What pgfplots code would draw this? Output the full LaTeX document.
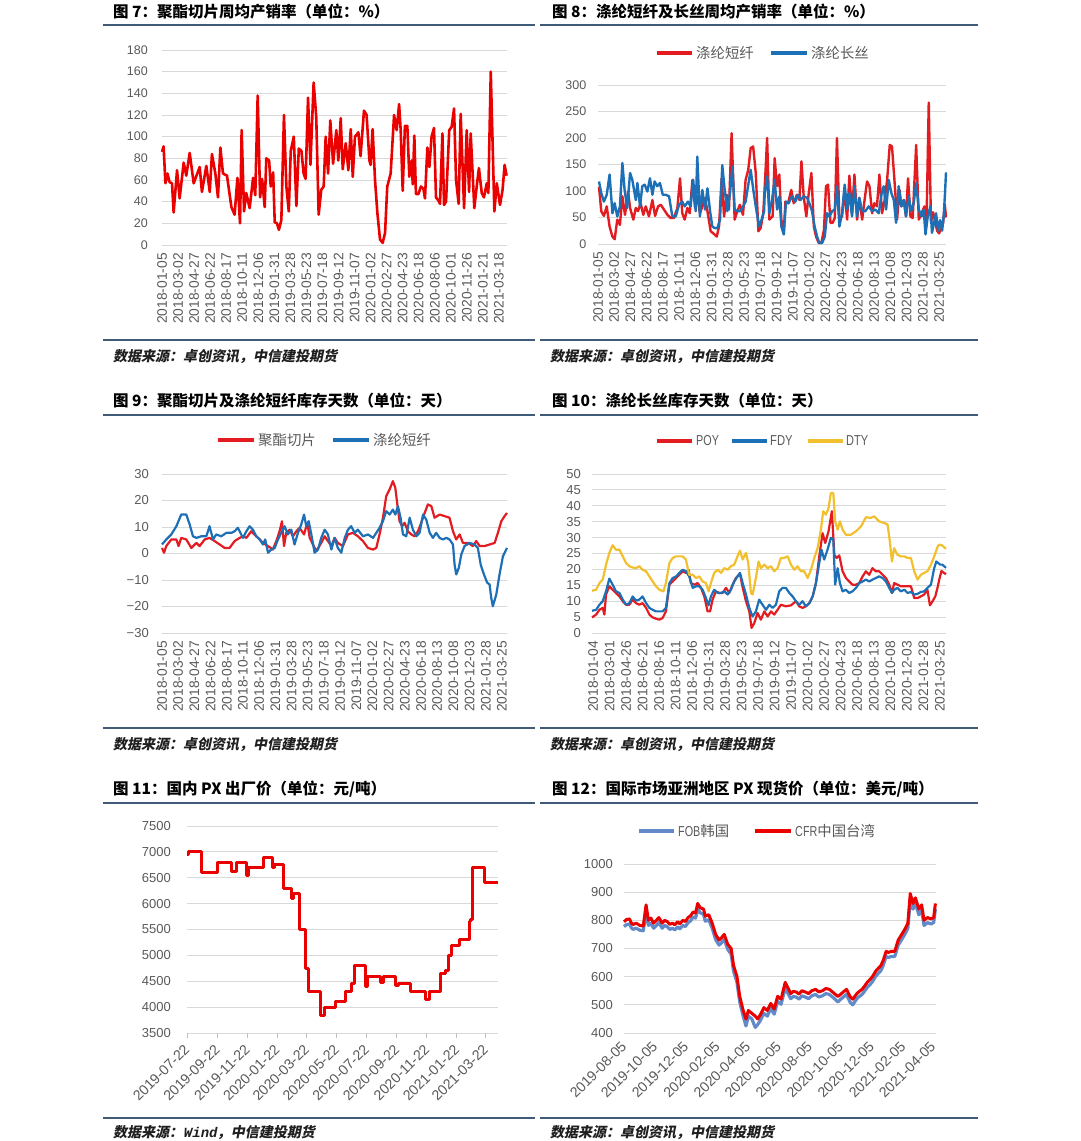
\documentclass[border=0pt]{standalone}
\usepackage{pgfplots}
\pgfplotsset{compat=1.18}
\usepackage{graphicx}
\usepackage{fontspec}
\setmainfont{Liberation Sans}
\newfontfamily\cjk{Noto Sans CJK SC}
\newfontfamily\srcfont[FakeSlant=0.2]{Noto Sans CJK SC}
\newfontfamily\srcmono[FakeSlant=0.2]{Liberation Mono}
\definecolor{rulec}{RGB}{64,90,120}
\definecolor{gridc}{RGB}{217,217,217}
\definecolor{labc}{RGB}{89,89,89}
\definecolor{redP}{RGB}{235,0,0}
\definecolor{redA}{RGB}{226,28,32}
\definecolor{blueA}{RGB}{30,112,182}
\definecolor{yelA}{RGB}{242,192,46}
\definecolor{blueF}{RGB}{98,138,200}
\pgfplotsset{
  base/.style={
    scale only axis, clip=false,
    axis line style={draw=none}, tick style={draw=none},
    ymajorgrids, major grid style={draw=gridc, line width=1pt},
    /pgf/number format/assume math mode=true,
    /pgf/number format/1000 sep={},
    scaled y ticks=false, scaled x ticks=false,
    yticklabel style={anchor=east, inner sep=0pt, text=labc, font=\fontsize{12.5}{14}\selectfont},
    xticklabel style={anchor=east, inner sep=0pt, text=labc},
  },
  vlab/.style={xticklabel style={rotate=90, font=\fontsize{13.8}{15}\selectfont}},
  dlab/.style={xticklabel style={rotate=45, font=\fontsize{14.2}{15}\selectfont}},
}
\newcommand\ttl[3]{\node[anchor=west, inner sep=0pt] at (#1pt,-#2pt) {\cjk\bfseries\fontsize{15.5}{18}\selectfont #3};}
\newcommand\rul[3]{\draw[rulec, line width=1.8pt] (#1pt,-#3pt) -- (#2pt,-#3pt);}
\newcommand\src[3]{\node[anchor=west, inner sep=0pt, text=black!88] at (#1pt,-#2pt) {\srcfont\bfseries\fontsize{14}{16}\selectfont #3};}
\newcommand\leg[5]{\draw[#1, line width=3.5pt] (#2pt,-#4pt) -- (#3pt,-#4pt); \node[anchor=west, inner sep=0pt, text=labc] at ({#3pt+4pt},-#4pt) {\cjk\fontsize{14.4}{16}\selectfont #5};}
\begin{document}
\begin{tikzpicture}
\path[use as bounding box] (0,0) rectangle (1080pt,-1141pt);
% ---------------- titles, rules, sources
\ttl{113}{12}{图 7：聚酯切片周均产销率（单位：\%）}
\ttl{552}{12}{图 8：涤纶短纤及长丝周均产销率（单位：\%）}
\ttl{113}{401}{图 9：聚酯切片及涤纶短纤库存天数（单位：天）}
\ttl{552}{401}{图 10：涤纶长丝库存天数（单位：天）}
\ttl{113}{789}{图 11：国内 PX 出厂价（单位：元/吨）}
\ttl{552}{789}{图 12：国际市场亚洲地区 PX 现货价（单位：美元/吨）}
\rul{103}{535}{25}\rul{540}{978}{25}
\rul{103}{535}{340}\rul{540}{978}{340}
\rul{103}{535}{415}\rul{540}{978}{415}
\rul{103}{535}{728}\rul{540}{978}{728}
\rul{103}{535}{803}\rul{540}{978}{803}
\rul{103}{535}{1118}\rul{540}{978}{1118}
\src{113}{357}{数据来源：卓创资讯，中信建投期货}
\src{550}{357}{数据来源：卓创资讯，中信建投期货}
\src{113}{745}{数据来源：卓创资讯，中信建投期货}
\src{550}{745}{数据来源：卓创资讯，中信建投期货}
\src{113}{1133}{数据来源：{\srcmono\bfseries Wind}，中信建投期货}
\src{550}{1133}{数据来源：卓创资讯，中信建投期货}

% ---------------- Chart 7
\begin{axis}[base, vlab, at={(162pt,-245pt)}, anchor=south west, width=345pt, height=195pt,
  xmin=0, xmax=172, ymin=0, ymax=180, ytick={0,20,...,180},
  yticklabel shift=14pt, xticklabel shift=8pt,
  xtick={0,8,...,168},
  xticklabels={2018-01-05,2018-03-02,2018-04-27,2018-06-22,2018-08-17,2018-10-11,2018-12-06,2019-01-31,2019-03-28,2019-05-23,2019-07-18,2019-09-12,2019-11-07,2020-01-02,2020-02-27,2020-04-23,2020-06-18,2020-08-06,2020-10-01,2020-11-26,2021-01-21,2021-03-18}]
\addplot[redP, line width=2.6pt, line join=round] coordinates {
(0,86)(0.8,91)(1.7,57)(2.7,66)(3.8,58)(5,57)(5.8,30)(7.5,69)(8.8,43)(10.8,76)(12.1,64)(13.8,85)(15.8,57)(18.8,72)(19.9,49)(22.1,73)(23.8,49)(24.9,84)(26.6,66)(27.9,44)(29.1,90)(30.4,66)(32.4,64)(34.6,35)(36.2,28)(37.6,62)(38.9,20)(39.7,106)(40.9,31)(42,48)(43.7,34)(45.4,62)(46.5,46)(47.7,138)(48.9,44)(49.9,61)(51.2,35)(52,80)(53.4,78)(54.2,54)(55.4,67)(56.2,21)(57.3,20)(58.3,14)(59.5,23)(60.8,120)(62,54)(63.2,31)(64.2,87)(65.7,100)(67,36)(68.2,89)(69.5,87)(70.6,66)(71.6,61)(72.8,136)(74,74)(75.6,150)(76.9,118)(78.1,28)(79.4,51)(80.6,54)(81.6,100)(82.8,66)(83.9,115)(85.3,75)(86.9,106)(87.9,78)(89.1,117)(90.1,70)(91.6,94)(92.9,69)(94.1,107)(95.1,63)(96.2,100)(97.9,104)(99,82)(100.7,124)(102,120)(103.4,78)(104,74)(105,107)(106.2,60)(107.4,29)(108.7,5)(110,2)(111.2,11)(112.3,54)(114,66)(115.7,120)(117,106)(118.2,130)(119,106)(120,50)(121.1,110)(122.3,110)(123.3,63)(124.5,78)(125,56)(125.8,101)(126.6,47)(127.8,47)(129.1,54)(130.3,52)(131.1,43)(132.3,90)(133.3,72)(134.4,100)(135.6,108)(136.6,44)(137.8,41)(138.6,38)(139.8,103)(140.6,37)(141.6,40)(143.2,106)(144.4,109)(145.6,126)(146.6,60)(147.9,38)(148.9,121)(150.6,34)(151.9,106)(153.1,49)(153.9,103)(155.7,34)(156.9,54)(158,71)(159.4,48)(160.5,44)(161.9,57)(162.7,48)(163.9,160)(165.7,31)(166.9,57)(168.5,37)(169.8,51)(170.8,74)(171.8,64)};
\end{axis}

% ---------------- Chart 8
\begin{axis}[base, vlab, at={(598pt,-244pt)}, anchor=south west, width=348pt, height=159pt,
  xmin=0, xmax=171.4, ymin=0, ymax=300, ytick={0,50,...,300},
  yticklabel shift=11.5pt, xticklabel shift=8pt,
  xtick={0,8,...,168},
  xticklabels={2018-01-05,2018-03-02,2018-04-27,2018-06-22,2018-08-17,2018-10-11,2018-12-06,2019-01-31,2019-03-28,2019-05-23,2019-07-18,2019-09-12,2019-11-07,2020-01-02,2020-02-27,2020-04-23,2020-06-18,2020-08-13,2020-10-08,2020-12-03,2021-01-28,2021-03-25}]
\addplot[redA, line width=2.4pt, line join=round] coordinates {
(0.5,108)(1.6,62)(2.9,53)(4.3,71)(5.7,33)(7.1,14)(8.2,9)(9.5,46)(10.8,36)(12,90)(13.3,55)(14.8,99)(15.8,68)(17.4,46)(18.6,68)(19.7,62)(21,77)(22.3,55)(23.5,71)(25.1,52)(26.8,83)(28.1,53)(29.6,71)(30.9,74)(32.5,65)(34.2,55)(35.8,49)(37.4,49)(39.1,68)(40.4,124)(41.5,58)(42.7,46)(44,68)(45.2,58)(46.5,121)(47.8,68)(48.9,90)(50.2,58)(51.4,71)(52.7,87)(53.9,62)(55.5,24)(57.1,19)(58.5,14)(59.6,33)(60.9,124)(62.1,52)(63.4,93)(64.5,65)(65.8,209)(67.3,46)(68.6,62)(69.9,74)(71.4,55)(72.7,121)(74,140)(75.2,181)(76.4,184)(77.7,134)(79,24)(80.1,30)(81.4,58)(82.3,121)(83.3,200)(84.4,46)(86,52)(87,162)(88.2,109)(89.3,131)(90.3,46)(91.5,21)(92.3,80)(93.6,77)(95.2,102)(96.4,77)(98,93)(99.2,83)(100.2,156)(101.3,90)(102.6,52)(103.8,96)(105.1,134)(106.3,33)(107.4,14)(108.7,2)(110,2)(111.3,27)(112.3,109)(113.3,112)(114.5,40)(115.6,40)(116.6,49)(117.7,200)(118.9,46)(120.2,52)(121.4,102)(122.7,46)(123.8,129)(125.1,58)(126.3,131)(127.6,46)(128.7,87)(130.1,46)(131.2,80)(132.5,118)(133.7,109)(135,58)(136.1,77)(137.4,71)(138.6,131)(139.9,58)(141.2,83)(142.4,121)(143.7,187)(144.8,184)(146,121)(147.3,46)(148.5,102)(149.4,71)(150.6,83)(151.7,52)(152.7,124)(153.9,52)(155,49)(156.7,187)(158,46)(159.3,58)(160.8,71)(161.8,40)(162.9,267)(164,40)(165,60)(166,45)(167,25)(168,20)(169,30)(170,40)(170.8,75)(171.4,50)};
\addplot[blueA, line width=2.4pt, line join=round] coordinates {
(0.5,118)(1.6,96)(2.9,80)(4.3,93)(5.7,131)(7.1,58)(8.2,77)(9.5,52)(10.8,71)(12,153)(13.1,102)(14.4,68)(15.8,134)(16.9,121)(18.6,83)(19.4,115)(20.7,71)(21.8,109)(23,112)(24.3,99)(25.6,124)(26.8,93)(27.9,118)(29.2,109)(30.5,115)(31.9,93)(33.3,93)(35,90)(36.6,52)(38.3,52)(39.9,74)(41.5,80)(42.7,71)(44.3,80)(45.6,71)(46.9,121)(48.1,62)(48.9,165)(50.2,52)(51.4,102)(52.7,65)(53.9,105)(55.2,62)(56.3,33)(57.5,30)(58.8,30)(60.1,46)(61.2,149)(62.4,102)(63.7,62)(65,96)(66.2,146)(67.3,65)(68.6,62)(69.9,62)(71.1,68)(72.7,80)(73.9,109)(75.2,140)(76.5,102)(77.7,71)(79.3,33)(80.6,46)(81.8,62)(82.1,96)(83.3,128)(84.4,58)(85.7,83)(87,121)(88.2,65)(89.3,90)(90.3,33)(91.5,18)(92.6,80)(93.9,77)(95.6,90)(97.2,80)(98.5,93)(99.7,83)(101.3,90)(103,87)(104.1,77)(105.4,62)(106.7,33)(107.9,14)(109,2)(110.4,2)(111.7,14)(112.8,58)(114,52)(115.3,62)(116.6,65)(117.7,109)(118.9,33)(120.2,58)(121.5,112)(122.7,65)(123.8,96)(125.1,52)(126.3,109)(127.6,52)(128.7,87)(130.1,62)(131.7,62)(133.3,71)(135,62)(136.6,65)(138.3,58)(139.6,93)(140.7,109)(141.9,65)(143.2,121)(144.5,96)(145.7,83)(146.8,40)(148.1,109)(149.4,71)(150.6,83)(151.7,52)(153,90)(154.2,62)(155.5,77)(156.7,115)(158,65)(159.3,52)(160.4,65)(161.3,18)(162.4,52)(163.7,71)(164.5,21)(165.5,40)(166.5,58)(167.5,25)(168.5,45)(169.5,25)(170.3,55)(170.9,95)(171.4,135)};
\end{axis}
\leg{redA}{657}{692}{53}{涤纶短纤}
\leg{blueA}{771}{807}{53}{涤纶长丝}

% ---------------- Chart 9
\begin{axis}[base, vlab, at={(162pt,-633pt)}, anchor=south west, width=345pt, height=159pt,
  xmin=0, xmax=170.5, ymin=-30, ymax=30, ytick={-30,-20,...,30},
  yticklabels={−30,−20,−10,0,10,20,30},
  yticklabel style={font=\fontsize{13}{15}\selectfont},
  yticklabel shift=13pt, xticklabel shift=8pt,
  xtick={0,8,...,168},
  xticklabels={2018-01-05,2018-03-02,2018-04-27,2018-06-22,2018-08-17,2018-10-11,2018-12-06,2019-01-31,2019-03-28,2019-05-23,2019-07-18,2019-09-12,2019-11-07,2020-01-02,2020-02-27,2020-04-23,2020-06-18,2020-08-13,2020-10-08,2020-12-03,2021-01-28,2021-03-25}]
\addplot[redA, line width=2.2pt, line join=round] coordinates {
(0,2.1)(1,0.3)(2.1,2.8)(4.6,5.3)(7.1,5.3)(8.2,2.8)(9.5,5.9)(12,5.3)(14.5,2.1)(17,4)(18.6,2.8)(21.1,5.3)(23.5,5.9)(26,4.7)(28.5,3.4)(31,2.1)(33.4,2.1)(35.9,4.7)(38.4,5.9)(40,6.5)(41.7,5.9)(44.1,8.4)(46.6,6.5)(48.3,5.3)(49.9,4)(52.4,2.8)(54.8,1.5)(56.5,4.7)(58.1,8.4)(59.3,12.2)(60.3,2.8)(61.4,7.8)(63.1,9)(64.7,6.5)(66.4,8.4)(68,9.7)(70.2,7.2)(71.8,11.6)(73,5.9)(74.6,3.4)(76.3,0.9)(78.7,4)(80.4,6.5)(82,4.7)(83.7,2.8)(85.3,5.9)(86.9,4)(89.4,2.8)(91.9,7.2)(94.4,7.8)(96.8,6.5)(99.3,4.7)(101.8,2.1)(104.3,1.5)(105.9,2.1)(107.5,7.2)(109.2,13.5)(110.8,21.6)(112.5,24.2)(114.1,27.3)(115.3,24.8)(116.3,18.5)(117.4,12.2)(118.7,10.3)(119.9,11.6)(121.5,8.4)(123.2,7.2)(124.8,6.5)(126.5,8.4)(128.1,11.6)(129.8,15.3)(131.4,18.5)(133.1,17.9)(134.7,13.5)(137.2,14.7)(139.7,14.1)(142.1,13.5)(143.8,8.4)(145.4,5.3)(147.1,7.2)(148.7,4)(151.2,4)(153.7,2.8)(155.3,4.7)(157,2.8)(159.4,2.8)(161.9,3.4)(164.4,4)(166,7.8)(167.7,12.2)(169.3,14.1)(170.5,15.3)};
\addplot[blueA, line width=2.2pt, line join=round] coordinates {
(0,3.4)(2.1,5.3)(4.6,7.2)(7.1,10.3)(9.5,14.7)(12,14.7)(13.7,10.9)(15.3,6.5)(17,5.9)(19.4,6.5)(21.9,6.5)(23.5,10.3)(25.2,5.3)(26.8,7.2)(29.3,6.5)(31.8,7.8)(34.3,7.8)(35.9,8.4)(37.5,9.7)(40,5.9)(41.7,8.4)(43.3,10.3)(44.9,9)(46.6,6.5)(48.3,5.3)(49.9,3.4)(51,5.3)(52.4,0.3)(54,1.5)(55.7,2.1)(57.3,5.3)(59.3,8.4)(60.6,10.3)(62.2,7.2)(63.9,9)(65.5,3.4)(67.2,7.8)(68.8,10.9)(70.2,14.7)(71.3,10.3)(72.5,12.2)(73.8,7.2)(75.4,0.3)(77.1,1.5)(78.7,5.9)(80.4,9)(82,7.2)(83.7,1.5)(85.3,5.9)(86.9,2.1)(88.6,0.3)(90.3,5.9)(91.9,9)(93.5,10.3)(95.2,7.8)(96.8,9)(99.3,6.5)(101.8,7.2)(104.3,5.9)(105.9,7.8)(107.5,9.7)(109.2,12.2)(110.8,16)(112.5,14.7)(114.1,16.6)(115.3,14.7)(116.6,17.9)(117.9,13.5)(119.1,7.2)(120.7,6.5)(122.4,13.5)(124,9)(125.7,6.5)(127.3,7.8)(129,14.7)(130.6,12.8)(132.3,7.8)(133.9,5.9)(135.5,7.8)(137.2,5.9)(138.8,5.3)(140.5,5.9)(142.1,5.3)(143.8,3.4)(144.6,-4.2)(145.4,-7.9)(146.7,-5.4)(147.9,-0.4)(149.5,2.8)(152,4)(154.5,3.4)(156.1,2.1)(157.5,-4.2)(159.1,-7.9)(160.7,-11)(161.9,-11.7)(162.7,-16.7)(163.5,-19.9)(165.2,-15.5)(166.8,-7.9)(168.5,-1)(170.5,2.1)};
\end{axis}
\leg{redA}{218}{254}{440}{聚酯切片}
\leg{blueA}{333}{369}{440}{涤纶短纤}

% ---------------- Chart 10
\begin{axis}[base, vlab, at={(592pt,-633pt)}, anchor=south west, width=354pt, height=159pt,
  xmin=-0.5, xmax=171, ymin=0, ymax=50, ytick={0,5,...,50},
  yticklabel style={font=\fontsize{13}{15}\selectfont},
  yticklabel shift=11pt, xticklabel shift=8pt,
  xtick={0,8,...,168},
  xticklabels={2018-01-04,2018-03-01,2018-04-26,2018-06-21,2018-08-16,2018-10-11,2018-12-06,2019-01-31,2019-03-28,2019-05-23,2019-07-18,2019-09-12,2019-11-07,2020-01-02,2020-02-27,2020-04-23,2020-06-18,2020-08-13,2020-10-08,2020-12-03,2021-01-28,2021-03-25}]
\addplot[redA, line width=2.2pt, line join=round] coordinates {
(-0.5,4.9)(1.5,5.8)(3.1,7.3)(4.7,7.9)(5.5,5.8)(6.3,12.1)(7.9,14.7)(9.5,13.6)(11.1,12.6)(12.8,11.5)(14.4,10)(16,8.9)(17.6,8.9)(19.2,10.5)(20.8,9.4)(22.4,8.9)(24,9.4)(25.7,7.9)(27.3,5.8)(28.9,4.9)(30.5,4.5)(32.1,4.2)(33.7,4.7)(35.3,6.8)(37,15.2)(38.6,16.2)(40.2,17.3)(41.8,18.3)(43.4,19.4)(45,18.9)(46.3,19.9)(47.4,15.7)(49.1,15.2)(50.7,15.7)(52.3,14.2)(53.9,11.5)(55.5,6.8)(56.7,6.8)(57.9,10.5)(59.5,13.1)(61.2,12.6)(62.8,12.6)(64.4,14.2)(66,12.6)(67.6,15.2)(69.2,17.3)(71.2,18.6)(72.5,14.2)(74.1,10)(75.7,6.8)(76.8,1.6)(78.1,3.1)(79.7,6.3)(81.3,4.2)(83,6.8)(84.6,5.2)(86.2,6.8)(87.8,5.8)(89.4,7.3)(91,8.9)(93.4,8.4)(95.9,8.7)(98.3,10)(99.9,8.4)(101.5,7.9)(103.1,8.4)(104.8,9.4)(106.4,11.5)(108,15.7)(109.6,24.1)(111.2,31.4)(112.5,28.3)(114.1,32)(115.7,38.3)(116.9,24.6)(118,23.6)(119.3,24.4)(120.9,19.4)(122.5,17.3)(124.1,16.2)(125.7,15.2)(127.4,15.2)(129,15.7)(130.6,17.8)(132.2,19.4)(133.8,18.3)(135.4,20.4)(137,19.4)(138.6,19.4)(140.3,18.3)(141.9,17.3)(143.5,15.2)(144.8,12.6)(145.9,15.7)(147.5,15.2)(149.1,14.7)(150.8,14.7)(152.4,14.7)(154,14.7)(155.6,11)(157.2,11)(158.8,11.5)(160.4,12.1)(162,13.6)(163.2,8.7)(164.5,10)(165.8,11.5)(166.8,14)(167.8,17)(168.8,19.5)(169.8,19)(171,18.5)};
\addplot[blueA, line width=2.2pt, line join=round] coordinates {
(-0.5,7)(1.5,7.3)(3.1,8.9)(4.7,10)(6.3,13.1)(7.9,17.1)(9.5,15.2)(11.1,13.1)(12.8,12.6)(14.4,10.5)(16,8.9)(17.6,9.4)(19.2,11.5)(20.8,10.2)(22.4,10.5)(24,11.5)(25.7,9.4)(27.3,7.9)(28.9,7.3)(30.5,6.8)(32.1,6.8)(33.7,6.8)(35.3,7.9)(37,15.7)(38.6,17.3)(40.2,17.8)(41.8,18.9)(43.4,19.9)(45,19.4)(46.6,17.8)(48.3,14.2)(49.9,14.7)(51.5,14.7)(53.1,13.6)(54.7,11)(56,8.7)(57.1,11.5)(58.7,13.6)(60.4,12.6)(62,12.6)(63.6,13.1)(65.2,12.1)(66.8,13.6)(68.4,16.2)(70,17.8)(71.2,18.9)(72.5,15.7)(74.1,12.1)(75.7,7.9)(77.3,5.2)(78.9,6.8)(80.5,10.5)(82.1,8.9)(83.8,7.3)(85.4,8.9)(87,7.9)(88.6,8.9)(90.2,13.1)(91.8,14.2)(93.4,14.2)(95.1,12.6)(96.7,11.5)(98.3,10)(99.9,8.9)(101.5,10)(103.1,8.4)(104.8,9.4)(106.4,11.5)(108,15.7)(109.6,22)(110.7,26.2)(112,23.1)(113.6,26.2)(115.2,29.9)(116.4,29.4)(117.3,15.2)(118.5,20.4)(119.6,15.7)(120.9,13.1)(122.5,13.6)(124.1,12.6)(125.7,13.1)(127.4,14.2)(129,15.7)(130.6,16.2)(132.2,16.8)(133.8,16.2)(135.4,16.8)(137,17.3)(138.6,17.8)(140.3,17.3)(141.9,16.2)(143.5,14.2)(144.8,12.6)(145.9,13.6)(147.5,14.2)(149.1,13.1)(150.8,13.6)(152.4,12.6)(154,12.9)(155.6,12.1)(157.2,12.3)(158.8,12.9)(160.4,13.1)(162,14.2)(163.7,15.2)(165.3,20.4)(166.3,22.5)(167.2,22)(168.2,21.5)(169.2,21.5)(170.1,21)(171,20.5)};
\addplot[yelA, line width=2.2pt, line join=round] coordinates {
(-0.5,13.3)(1.5,13.6)(3.1,15.7)(4.7,16.8)(6.3,21.5)(7.9,25.2)(9.5,27.6)(11.1,26.2)(12.8,26.2)(14.4,24.1)(16,22)(17.6,21)(19.2,20.6)(20.8,20.4)(22.4,21)(24,19.9)(25.7,19.4)(27.3,17.8)(28.9,16.2)(30.5,14.7)(32.1,13.6)(34.1,13.1)(35.3,15.7)(37,22)(38.6,23.6)(40.2,24.1)(41.8,24.1)(43.4,24.1)(45,23.1)(46.6,18.3)(48.3,18.3)(49.9,17.3)(51.5,17.8)(53.1,16.2)(54.7,15.7)(56,13.1)(57.1,15.7)(58.7,18.9)(60.4,19.9)(62,18.9)(63.6,20.4)(65.2,19.9)(66.8,21)(68.4,21.5)(70,24.1)(71.2,25.9)(72.5,23.1)(74.1,25.2)(75.2,22)(76.5,12.6)(77.3,12.1)(78.9,17.3)(80.2,22.5)(81.3,20.4)(83,21.5)(84.6,20.4)(86.2,21)(87.8,19.4)(89.4,20.4)(91,23.6)(92.6,23.6)(94.3,24.1)(95.9,21.5)(97.5,19.9)(99.1,21)(100.7,19.4)(102.3,19.4)(104,17.3)(105.6,19.9)(107.2,23.6)(108.8,26.7)(110.4,32.5)(111.5,38.3)(112.8,37.2)(114.1,39.3)(115.2,44)(116.4,44)(117.3,35.1)(118.5,32.5)(119.6,35.1)(120.9,32.5)(122.5,30.9)(124.9,30.9)(127.4,32)(129.8,33.5)(132.2,36.4)(134.6,36.2)(136.2,36.7)(138.6,35.1)(141.1,34.6)(142.7,34.1)(143.8,28.8)(144.8,22.5)(145.9,26.7)(147.5,24.6)(149.1,24.1)(150.8,24.1)(152.4,23.6)(154,23.6)(155.6,19.4)(157.2,16.8)(158.8,18.3)(160.4,18.9)(162,19.4)(163.7,21.5)(165.3,24.1)(166.3,26)(167.2,27.5)(168.2,27.8)(169.2,27.5)(170.1,27)(171,26.5)};
\end{axis}
\draw[redA, line width=3.5pt] (657pt,-441pt) -- (692pt,-441pt);
\node[anchor=west, inner sep=0pt, text=labc] at (696pt,-441pt) {\fontsize{14.4}{16}\selectfont\scalebox{0.75}[1]{POY}};
\draw[blueA, line width=3.5pt] (732pt,-441pt) -- (767pt,-441pt);
\node[anchor=west, inner sep=0pt, text=labc] at (770pt,-441pt) {\fontsize{14.4}{16}\selectfont\scalebox{0.78}[1]{FDY}};
\draw[yelA, line width=3.5pt] (808pt,-441pt) -- (843pt,-441pt);
\node[anchor=west, inner sep=0pt, text=labc] at (846pt,-441pt) {\fontsize{14.4}{16}\selectfont\scalebox{0.76}[1]{DTY}};

% ---------------- Chart 11
\begin{axis}[base, dlab, at={(187pt,-1033pt)}, anchor=south west, width=311pt, height=207pt,
  xmin=0, xmax=634, ymin=3500, ymax=7500, ytick={3500,4000,...,7500},
  yticklabel style={font=\fontsize{13}{15}\selectfont},
  yticklabel shift=11pt,
  xtick={0,62,123,184,244,305,366,428,489,550,609},
  xtick style={draw=gridc!70!gray, line width=1pt}, tick align=outside, xtick pos=left, major tick length=5pt,
  xticklabel shift=9pt,
  xticklabels={2019-07-22,2019-09-22,2019-11-22,2020-01-22,2020-03-22,2020-05-22,2020-07-22,2020-09-22,2020-11-22,2021-01-22,2021-03-22}]
\addplot[redP, line width=3pt, const plot, line join=round] coordinates {
(0,6950)(4,7000)(29,6600)(63,6800)(90,6620)(101,6800)(121,6550)(126,6700)(155,6900)(174,6700)(179,6750)(196,6300)(214,6100)(218,6200)(230,5500)(242,4750)(247,4300)(273,3830)(281,4000)(303,4100)(323,4300)(335,4450)(341,4800)(364,4400)(368,4600)(395,4480)(400,4600)(425,4420)(431,4450)(456,4300)(487,4150)(495,4300)(517,4650)(527,4700)(533,5000)(539,5200)(556,5300)(575,5650)(578,5700)(582,6700)(607,6400)(635,6400)};
\end{axis}

% ---------------- Chart 12
\begin{axis}[base, dlab, at={(624pt,-1033pt)}, anchor=south west, width=312pt, height=169pt,
  xmin=0, xmax=615, ymin=400, ymax=1000, ytick={400,500,...,1000},
  yticklabel style={font=\fontsize{13}{15}\selectfont},
  yticklabel shift=11pt,
  xtick={0,61,122,184,244,305,366,427,488,550,609},
  xticklabel shift=11pt,
  xticklabels={2019-08-05,2019-10-05,2019-12-05,2020-02-05,2020-04-05,2020-06-05,2020-08-05,2020-10-05,2020-12-05,2021-02-05,2021-04-05}]
\addplot[blueF, line width=3.2pt, line join=round] coordinates {
(0,778)(5,785)(10.9,787)(14,775)(17.7,768)(24,772)(31.2,765)(38,763)(43.5,830)(48.2,782)(53,790)(58.4,772)(63,780)(68.6,792)(75.4,772)(80,782)(85.6,777)(90,768)(95.7,772)(100,766)(105.9,777)(110,770)(116.1,782)(121,778)(126.3,792)(131,798)(136.5,812)(141,808)(145.3,840)(150.1,827)(156.8,822)(160.2,797)(167,802)(173.8,772)(180.6,732)(187.4,712)(192,720)(197.6,732)(204.4,697)(211.2,680)(215.9,620)(222.7,580)(228.1,510)(234.9,460)(240.4,425)(245.1,460)(251.9,450)(258.7,420)(263.5,430)(268.9,445)(275.7,470)(282.5,460)(289.3,487)(296,467)(302.8,512)(309.6,502)(317.8,560)(323.2,540)(328.6,522)(334,530)(340.2,527)(345,520)(350.4,532)(357,528)(363.9,522)(370,532)(377.5,537)(384,528)(391.1,532)(398,540)(404.7,537)(411.5,527)(416,520)(421.7,510)(426,518)(431.8,527)(438.6,537)(445.4,510)(450.9,500)(459,522)(464,530)(469.2,537)(474,548)(479.4,562)(484,570)(489.6,582)(496.3,602)(506.5,622)(511,640)(516.7,672)(521,668)(526.9,672)(533.7,672)(540.5,712)(545,725)(550.7,742)(555,755)(559.5,772)(564.2,870)(569.7,840)(574.4,860)(581.2,820)(586.7,835)(591.4,782)(598.2,792)(605,787)(610.4,792)(613.8,840)};
\addplot[redP, line width=3pt, line join=round] coordinates {
(0,795)(5,803)(10.9,805)(14,792)(17.7,785)(24,790)(31.2,782)(38,780)(43.5,855)(48.2,800)(53,808)(58.4,790)(63,798)(68.6,810)(75.4,790)(80,800)(85.6,795)(90,786)(95.7,790)(100,784)(105.9,795)(110,788)(116.1,800)(121,796)(126.3,810)(131,816)(136.5,830)(141,826)(145.3,860)(150.1,845)(156.8,840)(160.2,815)(167,820)(173.8,790)(180.6,750)(187.4,730)(192,738)(197.6,750)(204.4,715)(211.2,700)(215.9,640)(222.7,600)(228.1,530)(234.9,480)(240.4,450)(245.1,480)(251.9,470)(258.7,460)(263.5,450)(268.9,465)(275.7,490)(282.5,480)(289.3,505)(296,485)(302.8,530)(309.6,520)(317.8,580)(323.2,560)(328.6,540)(334,548)(340.2,545)(345,538)(350.4,550)(357,546)(363.9,540)(370,550)(377.5,555)(384,546)(391.1,550)(398,558)(404.7,555)(411.5,545)(416,538)(421.7,530)(426,536)(431.8,545)(438.6,555)(445.4,530)(450.9,520)(459,540)(464,548)(469.2,555)(474,566)(479.4,580)(484,588)(489.6,600)(496.3,620)(506.5,640)(511,658)(516.7,690)(521,686)(526.9,690)(533.7,690)(540.5,730)(545,743)(550.7,760)(555,773)(559.5,790)(564.2,895)(569.7,860)(574.4,880)(581.2,840)(586.7,855)(591.4,800)(598.2,810)(605,805)(610.4,810)(613.8,860)};
\end{axis}
\draw[blueF, line width=3.5pt] (639pt,-831pt) -- (674pt,-831pt);
\node[anchor=west, inner sep=0pt, text=labc] at (678pt,-831pt) {\fontsize{14.4}{16}\selectfont\scalebox{0.75}[1]{FOB}\cjk 韩国};
\draw[redP, line width=3.5pt] (755pt,-831pt) -- (791pt,-831pt);
\node[anchor=west, inner sep=0pt, text=labc] at (795pt,-831pt) {\fontsize{14.4}{16}\selectfont\scalebox{0.75}[1]{CFR}\cjk 中国台湾};
\end{tikzpicture}
\end{document}
